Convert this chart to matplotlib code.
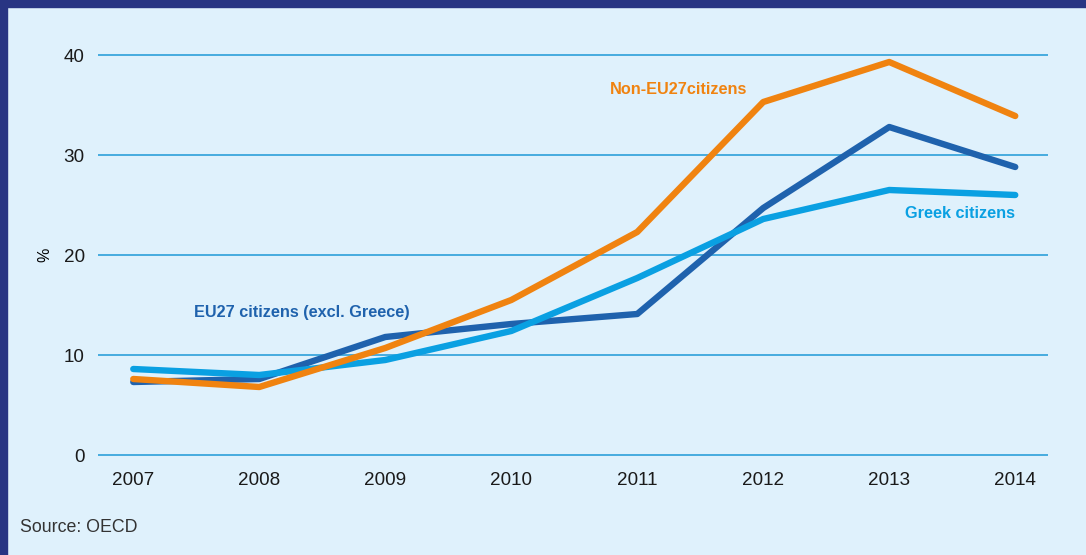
import matplotlib.pyplot as plt
from matplotlib.patches import Rectangle

plt.rcParams['font.family'] = ['Liberation Sans', 'DejaVu Sans']

years = [2007, 2008, 2009, 2010, 2011, 2012, 2013, 2014]
eu27 = [7.3, 7.6, 11.8, 13.1, 14.1, 24.7, 32.8, 28.8]
greek = [8.6, 8.0, 9.5, 12.4, 17.7, 23.6, 26.5, 26.0]
non_eu27 = [7.6, 6.8, 10.7, 15.5, 22.3, 35.3, 39.3, 33.9]
y_ticks = [0, 10, 20, 30, 40]

bg = '#dff1fc'
navy = '#283583'
c_eu = '#1f62ad'
c_greek = '#0aa0e2'
c_non = '#f08310'
grid_col = '#3aa6dc'

W, H = 1086, 555
fig = plt.figure(figsize=(W / 100, H / 100), dpi=100, facecolor=bg)

# axes placed in pixel terms: x 98..1048, y from 35 to 475 (ylim -2..42)
left, right = 98, 1048
top, bottom = 35, 475
ax = fig.add_axes([left / W, 1 - bottom / H, (right - left) / W, (bottom - top) / H])
ax.set_facecolor('none')
ax.set_xlim(2006.72, 2014.26)
ax.set_ylim(-2, 42)
for s in ax.spines.values():
    s.set_visible(False)

for yv in y_ticks:
    ax.axhline(yv, color=grid_col, lw=1.3, zorder=1)

ax.plot(years, eu27, color=c_eu, lw=4.6, solid_capstyle='round', solid_joinstyle='round', zorder=3)
ax.plot(years, greek, color=c_greek, lw=4.6, solid_capstyle='round', solid_joinstyle='round', zorder=4)
ax.plot(years, non_eu27, color=c_non, lw=4.6, solid_capstyle='round', solid_joinstyle='round', zorder=5)

ax.set_yticks(y_ticks)
ax.set_yticklabels([str(v) for v in y_ticks], fontsize=13.6, color='#1a1a1a')
ax.set_xticks(years)
ax.set_xticklabels([str(y) for y in years], fontsize=13.6, color='#1a1a1a')
ax.tick_params(axis='both', length=0)
ax.tick_params(axis='y', pad=9.5)
ax.tick_params(axis='x', pad=-2.5)

ax.text(2011.33, 36.5, 'Non-EU27citizens', color=c_non, fontsize=11.7,
        fontweight='bold', ha='center', va='center')
ax.text(2008.34, 14.2, 'EU27 citizens (excl. Greece)', color=c_eu, fontsize=11.7,
        fontweight='bold', ha='center', va='center')
ax.text(2013.56, 24.1, 'Greek citizens', color=c_greek, fontsize=11.7,
        fontweight='bold', ha='center', va='center')

fig.text(45 / W, 1 - 255 / H, '%', rotation=90, fontsize=11.5, ha='center', va='center')
fig.text(20 / W, 1 - 528 / H, 'Source: OECD', fontsize=12.8, color='#333333',
         ha='left', va='center')

# navy frame strips along the top and left edges
fig.patches.append(Rectangle((0, 1 - 7 / H), 1, 7 / H, transform=fig.transFigure,
                             color=navy, zorder=10))
fig.patches.append(Rectangle((0, 0), 7 / W, 1, transform=fig.transFigure,
                             color=navy, zorder=10))

fig.savefig('out.png', dpi=100, facecolor=bg)
